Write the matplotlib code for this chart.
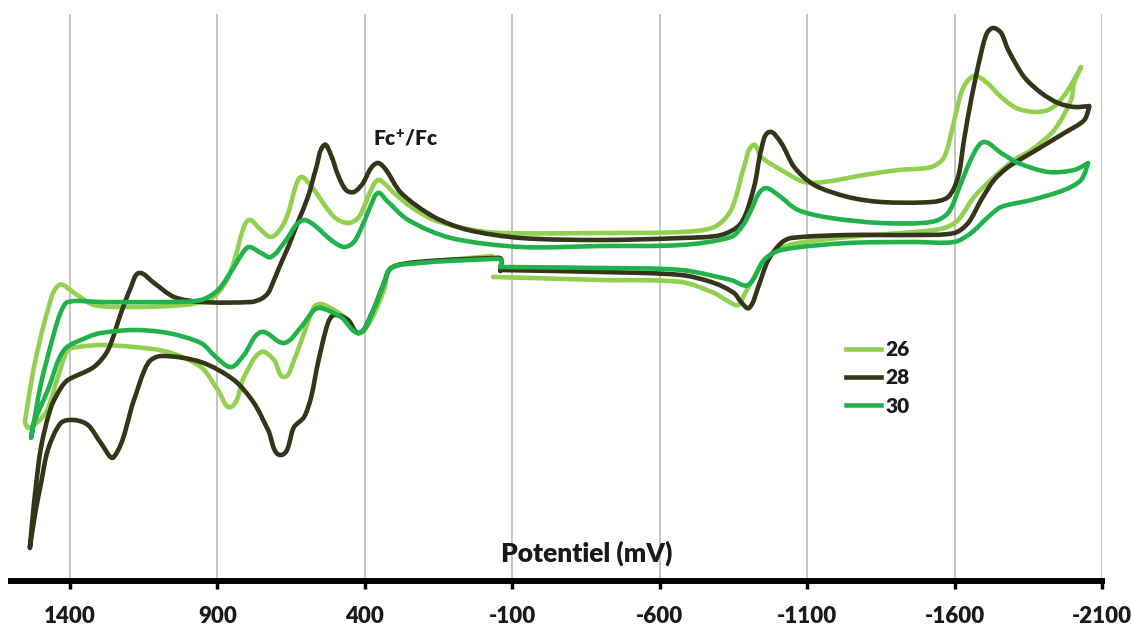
import matplotlib
matplotlib.use("Agg")
import numpy as np
import matplotlib.pyplot as plt
from matplotlib.path import Path
from matplotlib.patches import PathPatch
from matplotlib.lines import Line2D

plt.rcParams['font.family'] = ['Lato', 'DejaVu Sans']
plt.rcParams['mathtext.fontset'] = 'custom'
plt.rcParams['mathtext.rm'] = 'Lato'
plt.rcParams['mathtext.bf'] = 'Lato:heavy'

# ---- data: potential (mV) and current (arbitrary units) ----
E_26 = [-32, 219, 311, 335, 379, 420, 457, 504, 549, 572, 606, 640, 674, 708, 752, 810, 854, 898,
        956, 1068, 1183, 1295, 1373, 1407, 1441, 1481, 1539,
        1553, 1522, 1475, 1437, 1386, 1319, 1183, 1013, 932, 898, 864, 837, 817, 793, 759, 718, 684, 660,
        633, 616, 593, 572, 504, 457, 423, 403, 379, 355, 328, 301, 243, 165, 50, -62, -401, -673,
        -785, -842, -886, -917, -944, -1012, -1090, -1158, -1293, -1409, -1521, -1565, -1599, -1629,
        -1666, -1707, -1758, -1809, -1870, -1917, -1951, -1989, -2029,
        -2006, -1995, -1938, -1860, -1802, -1734, -1666, -1612, -1565, -1463, -1239, -1069, -1012, -954,
        -920, -886, -866, -825, -785, -673, -401, -164, -35]
I_26 = [4.4, 3.7, 3.2, 1.0, -2.0, -3.3, -2.0, -1.0, -0.4, -0.7, -3.3, -6.0, -7.7, -6.0, -5.2, -7.7, -10.7, -9.0,
        -6.7, -5.2, -4.7, -4.5, -4.7, -5.0, -7.7, -11.2, -12.8,
        -12.2, -6.7, -1.0, 1.5, 0.7, -0.5, -0.7, -0.5, 0.0, 0.7, 2.2, 4.5, 6.7, 8.0, 7.2, 6.3, 7.2, 8.7,
        11.5, 12.3, 11.8, 11.0, 8.3, 7.7, 8.2, 9.3, 11.0, 12.0, 11.5, 10.7, 9.3, 8.0, 7.1, 6.7, 6.7, 6.8,
        7.3, 9.0, 13.3, 15.5, 14.3, 13.0, 11.8, 11.8, 12.5, 13.0, 13.3, 14.3, 18.0, 21.2,
        22.4, 21.8, 20.3, 19.2, 18.8, 19.0, 19.7, 21.2, 23.3,
        21.8, 20.0, 17.0, 15.0, 14.0, 12.3, 10.3, 8.0, 7.2, 6.8, 6.3, 5.7, 5.2, 4.0,
        2.3, 0.5, -0.5, 0.0, 0.7, 1.8, 2.0, 2.2, 2.3]

E_28 = [-59, -62, -38, 219, 311, 335, 379, 420, 457, 504, 525, 559, 582, 606, 640, 684, 728, 776, 844,
        956, 1091, 1135, 1183, 1251, 1295, 1339, 1386, 1431, 1475, 1498, 1519, 1536,
        1529, 1519, 1498, 1464, 1431, 1407, 1319, 1271, 1227, 1193, 1166, 1115, 1047, 956, 786, 752, 728,
        708, 684, 660, 627, 593, 565, 538, 515, 491, 464, 437, 406, 379, 355, 328, 277, 165, 50, -130,
        -401, -673, -808, -876, -920, -944, -971, -1012, -1056, -1124, -1239, -1351, -1521, -1578, -1612,
        -1632, -1656, -1690, -1710, -1731, -1758, -1782, -1836, -1894, -1951, -2006, -2057,
        -2040, -1972, -1860, -1782, -1734, -1690, -1646, -1599, -1463, -1239, -1046, -1012, -968, -934,
        -903, -876, -852, -785, -673, -401, -59]
I_28 = [2.9, 4.1, 4.2, 3.8, 3.2, 1.7, -1.5, -3.3, -2.0, -1.5, -2.3, -6.3, -9.7, -11.7, -12.7, -15.5, -13.0, -10.3, -8.0,
        -6.2, -5.6, -6.3, -10.0, -15.7, -14.3, -12.5, -12.0, -12.3, -15.0, -18.3, -21.5, -24.8,
        -22.5, -19.5, -14.7, -10.7, -8.8, -8.0, -6.7, -5.0, -1.3, 1.3, 2.7, 1.7, 0.3, -0.2, -0.2, 0.1, 0.7,
        2.0, 3.7, 5.3, 7.8, 10.3, 13.2, 15.5, 14.5, 12.5, 11.0, 10.8, 11.7, 13.2, 13.7, 13.0, 10.7, 8.3, 7.0, 6.2,
        6.0, 6.2, 6.5, 7.7, 11.3, 15.0, 16.8, 15.7, 13.3, 11.5, 10.3, 9.8, 9.8, 10.3, 12.3,
        16.0, 20.0, 24.7, 26.7, 27.2, 26.7, 25.0, 22.3, 20.7, 19.7, 19.3, 19.4,
        18.0, 16.7, 14.7, 13.3, 12.0, 10.0, 7.7, 6.7, 6.5, 6.5, 6.2, 5.7, 4.0, 1.3,
        -0.8, -0.2, 0.7, 1.7, 2.5, 2.8, 3.0]

E_30 = [-59, -62, -38, 219, 311, 335, 379, 420, 481, 549, 572, 616, 674, 752, 810, 854,
        905, 956, 1068, 1183, 1295, 1339, 1420, 1475, 1522, 1532,
        1515, 1498, 1454, 1431, 1407, 1295, 1068, 956, 898, 844, 817, 793, 752, 718, 667, 633, 606, 572,
        515, 471, 437, 403, 379, 355, 328, 253, 108, -130, -401, -673, -842, -883, -910, -937, -961,
        -1002, -1069, -1181, -1351, -1521, -1578, -1622, -1666, -1700, -1758, -1816, -1917, -2006, -2053,
        -2029, -1972, -1860, -1758, -1714, -1656, -1599, -1463, -1239, -1012, -954, -900, -842, -673,
        -401, -62]
I_30 = [3.3, 4.0, 4.1, 3.7, 3.2, 1.7, -1.5, -3.3, -1.7, -0.8, -1.0, -2.7, -4.3, -3.2, -5.5, -6.7,
        -5.7, -4.3, -3.3, -3.0, -3.3, -3.7, -5.0, -9.0, -12.3, -13.8,
        -11.0, -8.3, -3.3, -1.2, -0.2, -0.2, -0.2, 0.0, 1.0, 3.3, 4.6, 5.3, 4.7, 4.3, 6.0, 7.5, 8.0, 7.5,
        6.0, 5.3, 5.8, 7.8, 9.5, 10.7, 10.0, 8.0, 6.2, 5.3, 5.4, 5.5, 6.3, 7.5, 9.0, 10.7, 11.2,
        10.5, 9.0, 8.2, 7.7, 7.8, 8.7, 11.7, 14.7, 15.8, 14.7, 13.7, 12.8, 13.0, 13.7,
        12.0, 11.0, 10.0, 9.3, 8.3, 6.7, 5.8, 5.8, 5.7, 5.0, 4.0, 1.5, 2.0, 3.0,
        3.2, 3.3]

labels = ['26', '28', '30']
colors = ['#92d050', '#35351a', '#22b24c']
xticks = [1400, 900, 400, -100, -600, -1100, -1600, -2100]

fig = plt.figure(figsize=(11.31, 6.25), dpi=100)
ax = fig.add_axes([11 / 1131, 1 - 581 / 625, (1102 - 11) / 1131, (581 - 14) / 625])
ax.set_xlim(1600, -2100)
ax.set_ylim(-28.1, 28.6)


def smooth_path(E, I, s=0.3):
    """Smoothed (Excel-like) path through the data points, built in display space."""
    P = ax.transData.transform(np.column_stack([E, I]))
    n = len(P)
    corners = {int(np.argmax(E)), int(np.argmin(E))}
    T = np.zeros_like(P)
    for i in range(n):
        if i in corners:
            continue
        t = P[min(i + 1, n - 1)] - P[max(i - 1, 0)]
        nt = np.linalg.norm(t)
        if nt > 0:
            T[i] = t / nt
    verts = [P[0]]
    codes = [Path.MOVETO]
    for i in range(n - 1):
        d = np.linalg.norm(P[i + 1] - P[i])
        verts += [P[i] + T[i] * d * s, P[i + 1] - T[i + 1] * d * s, P[i + 1]]
        codes += [Path.CURVE4] * 3
    verts = ax.transData.inverted().transform(np.array(verts))
    return Path(verts, codes)


handles = []
for E, I, lab, col in zip([E_26, E_28, E_30], [I_26, I_28, I_30], labels, colors):
    patch = PathPatch(smooth_path(E, I), facecolor='none', edgecolor=col, lw=3.3,
                      joinstyle='round', capstyle='round', transform=ax.transData)
    ax.add_patch(patch)
    handles.append(Line2D([], [], color=col, lw=3.3, label=lab))

ax.set_xticks(xticks)
ax.set_xticklabels([str(t) for t in xticks], fontsize=16, fontweight='heavy', color='#1a1a1a')
ax.set_yticks([])
ax.grid(axis='x', color='#bfbfbf', lw=1.3)
ax.set_axisbelow(True)
for s in ['top', 'right', 'left']:
    ax.spines[s].set_visible(False)
ax.spines['bottom'].set_linewidth(4.3)
ax.spines['bottom'].set_color('black')
ax.tick_params(axis='x', direction='out', length=6, width=2.5, color='black', pad=12)

fig.text(587 / 1131, 1 - 562 / 625, 'Potentiel (mV)', ha='center', va='baseline',
         fontsize=19, fontweight='heavy', color='#1a1a1a')
fig.text(373 / 1131, 1 - 145 / 625, r'$\mathbf{Fc^{+}/Fc}$', ha='left', va='baseline',
         fontsize=15, color='#1a1a1a')

leg = ax.legend(handles=handles, loc='upper left', bbox_to_anchor=(846 / 1131, 1 - 340 / 625),
                bbox_transform=fig.transFigure, frameon=False, handlelength=1.7, handletextpad=0.2,
                labelspacing=0.45, borderpad=0, borderaxespad=0, prop={'weight': 'heavy', 'size': 15})
for t in leg.get_texts():
    t.set_color('#1a1a1a')

fig.savefig('out.png', dpi=100)
